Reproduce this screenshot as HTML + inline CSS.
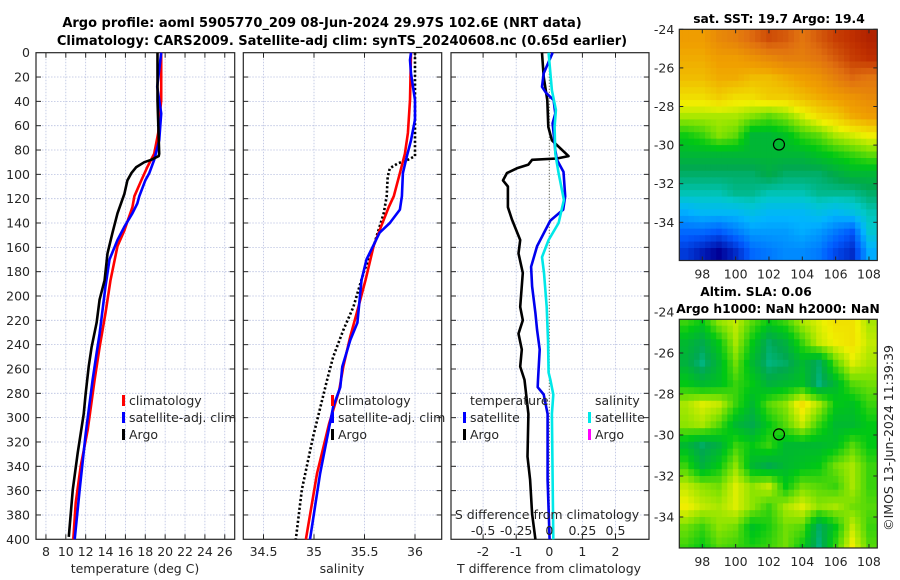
<!DOCTYPE html>
<html><head><meta charset="utf-8">
<style>
html,body{margin:0;padding:0;background:#fff;}
svg{display:block;font-family:"DejaVu Sans","Liberation Sans",sans-serif;}
.tk{font-size:12.5px;fill:#262626;}
.tt{font-size:13px;font-weight:bold;fill:#000;}
.tm{font-size:12.3px;font-weight:bold;fill:#000;}
.lg{font-size:12.5px;fill:#262626;}
</style></head>
<body>
<svg id="fig" width="900" height="580" viewBox="0 0 900 580" xmlns="http://www.w3.org/2000/svg">
<text class="tt" x="322" y="27" text-anchor="middle">Argo profile: aoml 5905770_209 08-Jun-2024 29.97S 102.6E (NRT data)</text>
<text class="tt" x="342" y="45" text-anchor="middle">Climatology: CARS2009. Satellite-adj clim: synTS_20240608.nc (0.65d earlier)</text>
<text class="tm" x="779" y="23" text-anchor="middle">sat. SST: 19.7 Argo: 19.4</text>
<text class="tm" x="756" y="296" text-anchor="middle">Altim. SLA: 0.06</text>
<text class="tm" x="778" y="313" text-anchor="middle">Argo h1000: NaN h2000: NaN</text>
<text class="tk" transform="translate(893,438) rotate(-90)" text-anchor="middle">©IMOS 13-Jun-2024 11:39:39</text>
<g id="layer"></g>
</svg>
<script>
// ---------- data ----------
const depthTickLabels = [0,20,40,60,80,100,120,140,160,180,200,220,240,260,280,300,320,340,360,380,400];
const tempTicks = [8,10,12,14,16,18,20,22,24,26];
const salTicks = [34.5,35,35.5,36];
const salTickLabels = ["34.5","35","35.5","36"];
const diffTTicks = [-2,-1,0,1,2];
const diffSTicks = [-0.5,-0.25,0,0.25,0.5];
const diffSTickLabels = ["-0.5","-0.25","0","0.25","0.5"];

const argoTDepth = [0,39,83,85,88,90,94,99,105,116,132,148,165,187,203,222,242,258,280,297,329,359,398];
const argoT = [19.23,19.23,19.4,19.35,18.6,17.9,17.1,16.6,16.2,15.9,15.2,14.7,14.2,13.9,13.4,13.1,12.6,12.3,12.0,11.8,11.2,10.7,10.3];
const climTDepth = [0,39,66,83,94,105,118,127,146,159,187,214,242,269,310,340,370,400];
const climT = [19.6,19.6,19.3,18.9,18.2,17.6,16.9,16.7,15.9,15.2,14.5,14.0,13.4,12.9,12.2,11.5,11.0,10.75];
const satTDepth = [0,28,50,72,88,99,105,118,124,132,143,154,170,192,231,247,269,313,359,400];
const satT = [19.6,19.2,19.6,19.4,18.9,18.4,18.0,17.4,17.2,16.7,15.9,15.2,14.4,14.0,13.4,13.1,12.7,12.0,11.4,10.9];

const argoSDepth = [0,39,66,85,88,91,95,102,118,132,159,181,209,228,250,269,316,359,400];
const argoS = [36.0,36.0,36.0,36.0,35.93,35.83,35.75,35.73,35.72,35.69,35.59,35.49,35.39,35.29,35.19,35.13,34.99,34.88,34.82];
const climSDepth = [0,39,66,83,99,118,127,146,159,187,209,233,258,277,305,346,400];
const climS = [35.96,35.95,35.93,35.90,35.85,35.79,35.74,35.65,35.59,35.51,35.44,35.36,35.29,35.25,35.15,35.03,34.92];
const satSDepth = [0,6,17,39,55,72,85,99,118,129,140,148,170,187,222,236,258,275,291,346,400];
const satS = [35.96,35.95,35.96,36.0,36.0,35.96,35.92,35.88,35.87,35.85,35.75,35.65,35.52,35.47,35.43,35.36,35.28,35.26,35.19,35.06,34.96];

const argoDTDepth = [0,20,39,61,72,85,87,88,92,95,99,105,110,121,127,137,154,165,181,209,220,231,244,258,269,297,332,351,379,400];
const argoDT = [-0.22,-0.17,-0.06,-0.03,0.08,0.58,0.23,-0.52,-0.63,-0.98,-1.28,-1.40,-1.25,-1.25,-1.25,-1.13,-0.88,-0.93,-0.8,-0.88,-0.8,-0.93,-0.83,-0.88,-0.75,-0.63,-0.66,-0.58,-0.52,-0.42];
const satDTDepth = [0,17,28,33,39,50,58,80,88,98,118,129,138,159,176,192,214,228,244,269,275,281,297,351,400];
const satDT = [0.1,-0.17,-0.22,-0.1,0.13,0.18,0.1,0.18,0.23,0.43,0.48,0.42,0.03,-0.37,-0.55,-0.52,-0.42,-0.37,-0.29,-0.34,-0.35,-0.17,-0.05,-0.05,0.01];
const satDSDepth = [0,31,47,61,83,99,121,140,154,168,181,209,236,263,269,281,297,400];
const satDS = [-0.005,0.02,0.05,0.04,0.045,0.07,0.11,0.07,-0.005,-0.055,-0.04,-0.02,-0.01,-0.005,0.008,0.03,0.02,0.03];

const mapLatTicks = [-24,-26,-28,-30,-32,-34];
const mapLonTicks = [98,100,102,104,106,108];
const sstGrid = [
[21.0,21.0,21.2,21.3,21.5,21.7,21.6,21.4,21.6,21.8,21.9,22.0],
[20.9,20.9,21.0,21.0,21.1,21.2,21.3,21.3,21.4,21.6,21.8,21.9],
[20.8,20.8,20.9,20.9,20.8,20.8,20.9,21.0,21.1,21.3,21.5,21.4],
[20.6,20.6,20.7,20.6,20.6,20.7,20.7,20.8,20.9,21.0,21.1,21.2],
[20.3,20.3,20.3,20.3,20.2,20.1,20.2,20.4,20.6,20.7,20.9,21.0],
[19.9,20.0,20.2,20.1,19.7,19.7,19.8,20.0,20.1,20.3,20.4,20.5],
[19.7,19.7,19.7,19.7,19.7,19.7,19.7,19.7,19.8,19.9,20.0,20.1],
[19.5,19.5,19.5,19.5,19.5,19.6,19.5,19.5,19.5,19.6,19.7,19.7],
[19.3,19.3,19.3,19.4,19.4,19.3,19.3,19.3,19.4,19.4,19.4,19.5],
[18.9,19.0,19.0,19.0,19.1,19.0,19.0,19.0,19.1,19.0,19.1,19.3],
[18.5,18.5,18.4,18.6,18.8,18.8,18.8,18.9,18.8,18.6,18.4,19.2],
[18.2,18.0,17.8,18.1,18.5,18.6,18.7,18.7,18.6,18.3,18.1,18.9]];
const slaGrid = [
[0.02,0.0,0.05,0.07,0.03,0.0,0.02,0.06,0.08,0.1,0.1,0.06],
[-0.02,-0.04,0.0,0.06,0.0,-0.05,-0.03,0.02,0.07,0.09,0.1,0.07],
[-0.03,-0.06,-0.02,0.04,-0.02,-0.06,-0.05,-0.02,-0.05,0.03,0.08,0.06],
[0.0,-0.02,-0.01,0.02,0.0,-0.03,-0.02,-0.01,-0.06,-0.02,0.03,0.04],
[0.06,0.08,0.07,0.02,-0.02,0.03,0.05,0.1,0.06,0.0,-0.01,0.02],
[0.05,0.06,0.03,-0.02,-0.04,0.0,0.03,0.07,0.02,-0.02,-0.02,0.0],
[-0.02,-0.05,-0.03,0.02,0.0,0.02,-0.02,-0.02,-0.02,-0.01,0.03,0.0],
[0.02,-0.03,0.0,0.05,-0.02,-0.04,-0.02,-0.01,0.0,0.04,0.06,0.02],
[0.07,0.05,0.04,0.08,0.05,0.07,0.0,0.04,0.03,0.02,0.06,0.02],
[0.09,0.07,0.06,0.08,0.05,0.02,0.06,0.08,0.05,0.06,0.04,0.03],
[0.04,0.02,0.05,0.04,-0.01,0.01,0.04,0.03,-0.05,0.0,0.07,0.02],
[0.02,0.0,0.03,0.02,0.01,0.02,0.04,0.0,-0.06,0.02,0.09,0.03]];
const floatLon = 102.6;
const floatLat = -29.97;

// ---------- helpers ----------
const NS = "http://www.w3.org/2000/svg";
const layer = document.getElementById('layer');
function mk(tag, attrs, parent){
  const e = document.createElementNS(NS, tag);
  for (const k in attrs) e.setAttribute(k, attrs[k]);
  (parent||layer).appendChild(e);
  return e;
}
const Y0 = 52.7, Y1 = 539.3;
const yD = d => Y0 + d*(Y1-Y0)/400;

function panel(x0, x1, xs, xTicks, xLabels, showY, name){
  const g = mk('g', {});
  
  
  xTicks.forEach(v=>{
    const l = mk('line',{x1:xs(v),x2:xs(v),y1:Y0,y2:Y1,stroke:'#b8c0e0','stroke-width':0.8,'stroke-dasharray':'1.5,1.5'},g);
    
    
  });
  depthTickLabels.forEach(d=>{
    if(d===0||d===400) return;
    const l = mk('line',{x1:x0,x2:x1,y1:yD(d),y2:yD(d),stroke:'#b8c0e0','stroke-width':0.8,'stroke-dasharray':'1.5,1.5'},g);
    
    
    mk('line',{x1:x0,x2:x0+5,y1:yD(d),y2:yD(d),stroke:'#262626','stroke-width':1},g);
    mk('line',{x1:x1-5,x2:x1,y1:yD(d),y2:yD(d),stroke:'#262626','stroke-width':1},g);
  });
  xTicks.forEach((v,i)=>{
    mk('line',{x1:xs(v),x2:xs(v),y1:Y1-5,y2:Y1,stroke:'#262626','stroke-width':1},g);
    mk('line',{x1:xs(v),x2:xs(v),y1:Y0,y2:Y0+5,stroke:'#262626','stroke-width':1},g);
    if(xLabels){
      const t = mk('text',{x:xs(v),y:556,'text-anchor':'middle','class':'tk'},g);
      t.textContent = xLabels[i];
      
      
    }
  });
  if(showY){
    depthTickLabels.forEach(d=>{
      const t = mk('text',{x:x0-6,y:yD(d)+4.5,'text-anchor':'end','class':'tk'},g);
      t.textContent = d;
      
      
    });
  }
  const r = mk('rect',{x:x0,y:Y0,width:x1-x0,height:Y1-Y0,fill:'none',stroke:'#262626','stroke-width':1.2},g);
  
  
  return g;
}
function line(g, xs, vals, depths, color, name, dash, w){
  const pts = vals.map((v,i)=>xs(v).toFixed(1)+','+yD(depths[i]).toFixed(1)).join(' ');
  const p = mk('polyline',{points:pts,fill:'none',stroke:color,'stroke-width':w||2.6,'stroke-linejoin':'round'},g);
  if(dash) p.setAttribute('stroke-dasharray',dash);
  
  
}
function legend(g, x, y, color, label, name){
  const m = mk('rect',{x:x,y:y-10,width:3,height:11,fill:color},g);
  
  
  const t = mk('text',{x:x+7,y:y,'class':'lg'},g);
  t.textContent = label;
  
  
}
function label(txt, x, y, name, anchor){
  const t = mk('text',{x:x,y:y,'text-anchor':anchor||'middle','class':'lg'});
  t.textContent = txt;
  
  
}
const LY = [405, 422, 439];

// ---------- panel 1: temperature ----------
const xT = v => 36 + (v-7)*(234.7-36)/20;
const g1 = panel(36, 234.7, xT, tempTicks, tempTicks.map(String), true, 'temperature-panel');
line(g1, xT, climT, climTDepth, '#ff0000', 'climatology-temp-line');
line(g1, xT, satT, satTDepth, '#0000ff', 'satellite-temp-line');
line(g1, xT, argoT, argoTDepth, '#000000', 'argo-temp-line');
legend(g1, 122, LY[0], '#ff0000', 'climatology', 'legend-climatology');
legend(g1, 122, LY[1], '#0000ff', 'satellite-adj. clim', 'legend-satellite');
legend(g1, 122, LY[2], '#000000', 'Argo', 'legend-argo');
label('temperature (deg C)', 135, 573, 'x-axis-title-temperature');

// ---------- panel 2: salinity ----------
const xS = v => 314 + (v-35)*101;
const g2 = panel(243.3, 441.7, xS, salTicks, salTickLabels, false, 'salinity-panel');
line(g2, xS, argoS, argoSDepth, '#000000', 'argo-salinity-line', '2.2,2.2');
line(g2, xS, climS, climSDepth, '#ff0000', 'climatology-salinity-line');
line(g2, xS, satS, satSDepth, '#0000ff', 'satellite-salinity-line');
legend(g2, 331, LY[0], '#ff0000', 'climatology', 'legend-climatology-s');
legend(g2, 331, LY[1], '#0000ff', 'satellite-adj. clim', 'legend-satellite-s');
legend(g2, 331, LY[2], '#000000', 'Argo', 'legend-argo-s');
label('salinity', 342, 573, 'x-axis-title-salinity');

// ---------- panel 3: differences ----------
const xDT = v => 549.3 + v*33.1;
const xDS = v => 549.3 + v*132.4;
const g3 = panel(451, 649, xDT, diffTTicks, diffTTicks.map(String), false, 'difference-panel');
const z = mk('line',{x1:xDT(0),x2:xDT(0),y1:Y0,y2:Y1,stroke:'#505030','stroke-width':1,'stroke-dasharray':'1,2'},g3);


line(g3, xDT, argoDT, argoDTDepth, '#000000', 'argo-temp-diff-line');
line(g3, xDT, satDT, satDTDepth, '#0000ee', 'satellite-temp-diff-line');
line(g3, xDS, satDS, satDSDepth, '#00e8e8', 'satellite-salinity-diff-line');
label('temperature', 470, LY[0], 'legend-temperature-header', 'start');
legend(g3, 463, LY[1], '#0000ff', 'satellite', 'legend-temp-satellite');
legend(g3, 463, LY[2], '#000000', 'Argo', 'legend-temp-argo');
label('salinity', 595, LY[0], 'legend-salinity-header', 'start');
legend(g3, 588, LY[1], '#00e8e8', 'satellite', 'legend-sal-satellite');
legend(g3, 588, LY[2], '#ff00ff', 'Argo', 'legend-sal-argo');
label('S difference from climatology', 547, 519, 'top-axis-title-s-diff');
diffSTicks.forEach((v,i)=>{
  const t = mk('text',{x:xDS(v),y:535,'text-anchor':'middle','class':'tk'},g3);
  t.textContent = diffSTickLabels[i];
  
  
});
label('T difference from climatology', 549, 573, 'x-axis-title-t-diff');

// ---------- maps ----------
const stops = [[0,[0,0,150]],[0.14,[0,90,255]],[0.26,[0,180,255]],[0.33,[0,200,200]],[0.40,[0,168,80]],[0.47,[0,200,20]],[0.55,[140,228,0]],[0.61,[240,240,0]],[0.72,[240,160,0]],[0.83,[224,112,16]],[0.93,[192,48,0]],[1,[150,10,0]]];
function cmap(t){
  t = Math.max(0, Math.min(1, t));
  for(let i=1;i<stops.length;i++){
    if(t<=stops[i][0]){
      const a=stops[i-1], b=stops[i], f=(t-a[0])/(b[0]-a[0]);
      const c=a[1].map((v,k)=>Math.round(v+(b[1][k]-v)*f));
      return 'rgb('+c.join(',')+')';
    }
  }
  return 'rgb(150,10,0)';
}
function sample(grid, r, c){
  const R = grid.length, C = grid[0].length;
  r = Math.max(0, Math.min(R-1, r)); c = Math.max(0, Math.min(C-1, c));
  const r0 = Math.floor(r), c0 = Math.floor(c);
  const r1 = Math.min(R-1, r0+1), c1 = Math.min(C-1, c0+1);
  const fr = r-r0, fc = c-c0;
  return grid[r0][c0]*(1-fr)*(1-fc)+grid[r0][c1]*(1-fr)*fc+grid[r1][c0]*fr*(1-fc)+grid[r1][c1]*fr*fc;
}
function drawMap(name, top, bottom, yRef, k, grid, norm){
  const x0=679.3, x1=877.3, lon0=96.62, lon1=108.5;
  const xs = lon => x0 + (lon-lon0)*(x1-x0)/(lon1-lon0);
  const ys = lat => yRef + (-24-lat)*k;
  const g = mk('g',{});
  
  
  const cid = 'clip-'+name;
  const cp = mk('clipPath',{id:cid},g);
  mk('rect',{x:x0,y:top,width:x1-x0,height:bottom-top},cp);
  const cells = mk('g',{'clip-path':'url(#'+cid+')'},g);
  const sub = 3;
  for(let r=0;r<grid.length*sub;r++){
    for(let c=0;c<grid[0].length*sub;c++){
      const lonA = 96.5 + c/sub, latA = -24 - r/sub;
      const v = sample(grid, (r+0.5)/sub-0.5, (c+0.5)/sub-0.5);
      const cell = mk('rect',{x:xs(lonA).toFixed(1),y:ys(latA).toFixed(1),width:(xs(lonA+1/sub)-xs(lonA)+0.6).toFixed(1),height:(ys(latA-1/sub)-ys(latA)+0.6).toFixed(1),fill:cmap(norm(v))},cells);
      
      
    }
  }
  const circ = mk('circle',{cx:xs(floatLon),cy:ys(floatLat),r:5.5,fill:'none',stroke:'#000','stroke-width':1.2},g);
  
  
  mk('rect',{x:x0,y:top,width:x1-x0,height:bottom-top,fill:'none',stroke:'#262626','stroke-width':1.2},g);
  mapLatTicks.forEach(lat=>{
    const y = ys(lat);
    if(y>=top-0.5){
      mk('line',{x1:x0,x2:x0+4,y1:y,y2:y,stroke:'#262626'},g);
      mk('line',{x1:x1-4,x2:x1,y1:y,y2:y,stroke:'#262626'},g);
    }
    const t = mk('text',{x:x0-5,y:y+4.5,'text-anchor':'end','class':'tk'},g);
    t.textContent = lat;
    
    
  });
  mapLonTicks.forEach(lon=>{
    mk('line',{x1:xs(lon),x2:xs(lon),y1:bottom-4,y2:bottom,stroke:'#262626'},g);
    mk('line',{x1:xs(lon),x2:xs(lon),y1:top,y2:top+4,stroke:'#262626'},g);
    const t = mk('text',{x:xs(lon),y:bottom+18,'text-anchor':'middle','class':'tk'},g);
    t.textContent = lon;
    
    
  });
}
drawMap('sst-map', 29.3, 260.5, 29.3, 19.3, sstGrid, v => (v-17.8)/(22.2-17.8));
drawMap('sla-map', 319.3, 548, 312, 20.5, slaGrid, v => 0.47 + v*1.6);
</script>
</body></html>
